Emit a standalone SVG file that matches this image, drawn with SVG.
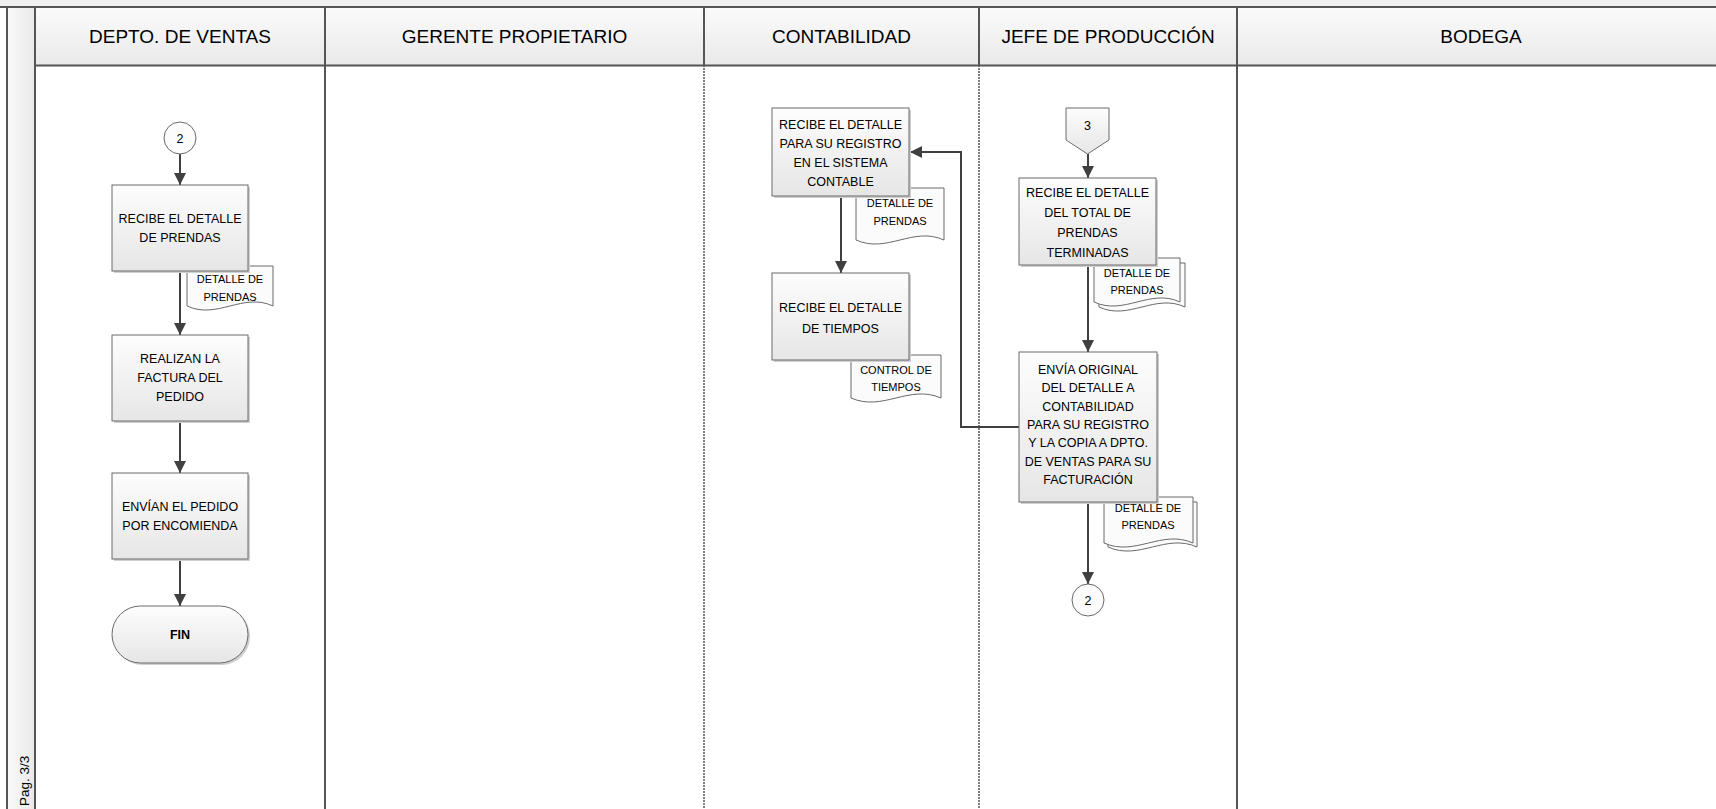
<svg xmlns="http://www.w3.org/2000/svg" width="1716" height="809" viewBox="0 0 1716 809">
<defs>
<linearGradient id="gBox" x1="0" y1="0" x2="0" y2="1"><stop offset="0" stop-color="#fdfdfd"/><stop offset="1" stop-color="#e6e6e6"/></linearGradient>
<linearGradient id="gHead" x1="0" y1="0" x2="0" y2="1"><stop offset="0" stop-color="#fbfbfb"/><stop offset="1" stop-color="#e9e9e9"/></linearGradient>
<linearGradient id="gCol" x1="0" y1="0" x2="1" y2="0"><stop offset="0" stop-color="#fafafa"/><stop offset="1" stop-color="#e9e9e9"/></linearGradient>
<marker id="ah" viewBox="0 0 12 12" refX="12" refY="6" markerWidth="12" markerHeight="12" orient="auto" markerUnits="userSpaceOnUse"><path d="M0,0 L12,6 L0,12 z" fill="#404040"/></marker>
</defs>
<style>
text{font-family:"Liberation Sans",Arial,sans-serif;fill:#000;text-anchor:middle}
.hd{font-size:19px}
.bx{font-size:12.5px}
.dc{font-size:11px}
.box{fill:url(#gBox);stroke:#6a6a6a;stroke-width:1}
.sh{fill:#cfcfcf;stroke:none}
.doc{fill:#fbfbfb;stroke:#6a6a6a;stroke-width:1}
.lane{stroke:#555;stroke-width:2;fill:none}
.dot{stroke:#555;stroke-width:1.5;stroke-dasharray:2 1;fill:none}
.cn{stroke:#404040;stroke-width:2;fill:none;marker-end:url(#ah)}
</style>
<rect x="0" y="0" width="1716" height="809" fill="#ffffff"/>
<g id="pool">
<rect x="0" y="0" width="1716" height="7" fill="#efefef"/>
<rect x="7" y="7" width="28" height="802" fill="url(#gCol)"/>
<rect x="35" y="7" width="1681" height="58" fill="url(#gHead)"/>
<line class="lane" x1="0" y1="7" x2="1716" y2="7"/>
<line class="lane" x1="35" y1="65.5" x2="1716" y2="65.5"/>
<line class="lane" x1="7" y1="7" x2="7" y2="809"/>
<line class="lane" x1="35" y1="7" x2="35" y2="809"/>
<line class="lane" x1="325" y1="7" x2="325" y2="809"/>
<line class="lane" x1="704" y1="7" x2="704" y2="65"/>
<line class="dot" x1="704" y1="65" x2="704" y2="809"/>
<line class="lane" x1="979" y1="7" x2="979" y2="65"/>
<line class="dot" x1="979" y1="65" x2="979" y2="809"/>
<line class="lane" x1="1237" y1="7" x2="1237" y2="809"/>
<text class="hd" x="180" y="43">DEPTO. DE VENTAS</text>
<text class="hd" x="514.5" y="43">GERENTE PROPIETARIO</text>
<text class="hd" x="841.5" y="43">CONTABILIDAD</text>
<text class="hd" x="1108" y="43">JEFE DE PRODUCCIÓN</text>
<text class="hd" x="1481" y="43">BODEGA</text>
<text transform="translate(29,806) rotate(-90)" style="font-size:13.5px;text-anchor:start">Pag. 3/3</text>
</g>
<g id="connectors">
<line class="cn" x1="180" y1="154" x2="180" y2="185"/>
<line class="cn" x1="180" y1="271" x2="180" y2="335"/>
<line class="cn" x1="180" y1="421" x2="180" y2="473"/>
<line class="cn" x1="180" y1="559" x2="180" y2="606"/>
<line class="cn" x1="841" y1="196" x2="841" y2="273"/>
<polyline class="cn" points="1019,427 961,427 961,152 910,152"/>
<line class="cn" x1="1088" y1="154" x2="1088" y2="178"/>
<line class="cn" x1="1088" y1="265" x2="1088" y2="352"/>
<line class="cn" x1="1088" y1="502" x2="1088" y2="584"/>
</g>
<g id="c2a">
<circle cx="180" cy="138" r="16" fill="#fcfcfc" stroke="#6a6a6a"/>
<text class="bx" x="180" y="142.5">2</text>
</g>
<g id="docV">
<path class="doc" d="M187,266 H273 V306 C243,292 217,320 187,306 Z"/>
<text class="dc" x="230" y="283">DETALLE DE</text>
<text class="dc" x="230" y="301">PRENDAS</text>
</g>
<g id="v1">
<rect class="sh" x="114" y="187" width="136" height="86"/>
<rect class="box" x="112" y="185" width="136" height="86"/>
<text class="bx" x="180" y="222.5">RECIBE EL DETALLE</text>
<text class="bx" x="180" y="242">DE PRENDAS</text>
</g>
<g id="v2">
<rect class="sh" x="114" y="337" width="136" height="86"/>
<rect class="box" x="112" y="335" width="136" height="86"/>
<text class="bx" x="180" y="362.5">REALIZAN LA</text>
<text class="bx" x="180" y="382">FACTURA DEL</text>
<text class="bx" x="180" y="401">PEDIDO</text>
</g>
<g id="v3">
<rect class="sh" x="114" y="475" width="136" height="86"/>
<rect class="box" x="112" y="473" width="136" height="86"/>
<text class="bx" x="180" y="511">ENVÍAN EL PEDIDO</text>
<text class="bx" x="180" y="530">POR ENCOMIENDA</text>
</g>
<g id="fin">
<rect class="sh" x="114" y="608" width="136" height="57" rx="28.5"/>
<rect class="box" x="112" y="606" width="136" height="57" rx="28.5"/>
<text class="bx" x="180" y="638.5" font-weight="bold">FIN</text>
</g>
<g id="docC1">
<path class="doc" d="M856,188 H944 V240 C913,226 887,254 856,240 Z"/>
<text class="dc" x="900" y="207">DETALLE DE</text>
<text class="dc" x="900" y="225">PRENDAS</text>
</g>
<g id="c1">
<rect class="sh" x="774" y="110" width="137" height="88"/>
<rect class="box" x="772" y="108" width="137" height="88"/>
<text class="bx" x="840.5" y="128.5">RECIBE EL DETALLE</text>
<text class="bx" x="840.5" y="147.5">PARA SU REGISTRO</text>
<text class="bx" x="840.5" y="166.5">EN EL SISTEMA</text>
<text class="bx" x="840.5" y="185.5">CONTABLE</text>
</g>
<g id="docC2">
<path class="doc" d="M851,355 H941 V398 C909,384 883,412 851,398 Z"/>
<text class="dc" x="896" y="374">CONTROL DE</text>
<text class="dc" x="896" y="391">TIEMPOS</text>
</g>
<g id="c2">
<rect class="sh" x="774" y="275" width="137" height="87"/>
<rect class="box" x="772" y="273" width="137" height="87"/>
<text class="bx" x="840.5" y="311.5">RECIBE EL DETALLE</text>
<text class="bx" x="840.5" y="332.5">DE TIEMPOS</text>
</g>
<g id="off3">
<polygon points="1066,108 1109,108 1109,140 1087.5,154 1066,140" fill="url(#gBox)" stroke="#6a6a6a"/>
<text class="bx" x="1087.5" y="130">3</text>
</g>
<g id="docJ1">
<path class="doc" d="M1099,263 H1185 V307 C1155,293 1129,321 1099,307 Z"/>
<path class="doc" d="M1094,258 H1180 V302 C1150,288 1124,316 1094,302 Z"/>
<text class="dc" x="1137" y="277">DETALLE DE</text>
<text class="dc" x="1137" y="294">PRENDAS</text>
</g>
<g id="j1">
<rect class="sh" x="1021" y="180" width="137" height="87"/>
<rect class="box" x="1019" y="178" width="137" height="87"/>
<text class="bx" x="1087.5" y="196.5">RECIBE EL DETALLE</text>
<text class="bx" x="1087.5" y="216.5">DEL TOTAL DE</text>
<text class="bx" x="1087.5" y="236.5">PRENDAS</text>
<text class="bx" x="1087.5" y="256.5">TERMINADAS</text>
</g>
<g id="docJ2">
<path class="doc" d="M1108,502 H1197 V547 C1166,533 1139,561 1108,547 Z"/>
<path class="doc" d="M1104,497 H1193 V543 C1162,529 1135,557 1104,543 Z"/>
<text class="dc" x="1148" y="512">DETALLE DE</text>
<text class="dc" x="1148" y="529">PRENDAS</text>
</g>
<g id="j2">
<rect class="sh" x="1021" y="354" width="138" height="150"/>
<rect class="box" x="1019" y="352" width="138" height="150"/>
<text class="bx" x="1088" y="374">ENVÍA ORIGINAL</text>
<text class="bx" x="1088" y="392.3">DEL DETALLE A</text>
<text class="bx" x="1088" y="410.6">CONTABILIDAD</text>
<text class="bx" x="1088" y="429">PARA SU REGISTRO</text>
<text class="bx" x="1088" y="447.3">Y LA COPIA A DPTO.</text>
<text class="bx" x="1088" y="465.6">DE VENTAS PARA SU</text>
<text class="bx" x="1088" y="484">FACTURACIÓN</text>
</g>
<g id="c2b">
<circle cx="1088" cy="600" r="16" fill="#fcfcfc" stroke="#6a6a6a"/>
<text class="bx" x="1088" y="604.5">2</text>
</g>
</svg>
